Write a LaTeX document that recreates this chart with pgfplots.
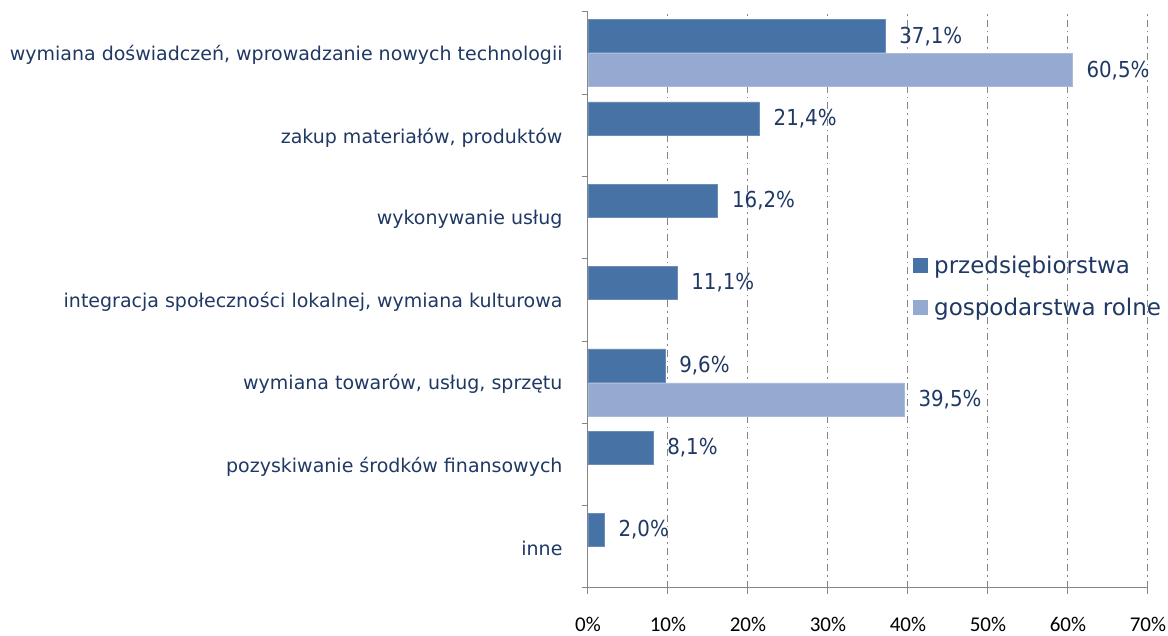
\documentclass[border=0pt]{standalone}
\usepackage{fontspec}
\setmainfont{DejaVu Sans}
\newfontfamily\valfont{DejaVu Sans}[FakeStretch=0.9]
\newfontfamily\tickfont{Carlito}
\usepackage{pgfplots}
\pgfplotsset{compat=1.18}
\definecolor{darkbar}{HTML}{4672A6}
\definecolor{lightbar}{HTML}{95AAD0}
\definecolor{navy}{HTML}{1F3864}
\definecolor{axgray}{HTML}{868686}

\begin{document}
\begin{tikzpicture}
\useasboundingbox (-588pt,-48pt) rectangle (580pt,588pt);
\begin{axis}[
    scale only axis, width=560pt, height=576pt,
    xbar, bar width=33pt,
    xmin=0, xmax=70, ymin=-0.5, ymax=6.5,
    axis x line*=bottom, axis y line*=left,
    axis line style={axgray, line width=1pt},
    tick align=outside, major tick length=6pt,
    tick style={axgray, line width=1pt},
    xtick={0,10,...,70},
    xticklabels={0\%,10\%,20\%,30\%,40\%,50\%,60\%,70\%},
    x tick label style={font=\tickfont\fontsize{21}{22}\selectfont, text=black, yshift=-20pt},
    ytick={-0.5,0.5,...,6.5},
    y tick label as interval,
    yticklabels={inne,
        pozyskiwanie środków finansowych,
        {wymiana towarów, usług, sprzętu},
        {integracja społeczności lokalnej, wymiana kulturowa},
        wykonywanie usług,
        {zakup materiałów, produktów},
        {wymiana doświadczeń, wprowadzanie nowych technologii}},
    y tick label style={font=\fontsize{19}{20}\selectfont, text=navy, xshift=-16pt, yshift=-2pt},
    xmajorgrids,
    grid style={axgray, line width=1pt, dash pattern=on 7pt off 4pt on 1.5pt off 4pt},
    nodes near coords, point meta=explicit symbolic,
    every node near coord/.append style={anchor=west, xshift=11pt, text=navy,
        font=\valfont\fontsize{22}{23}\selectfont},
    legend style={draw=none, fill=none, at={(rel axis cs:0.575,0.583)}, anchor=north west,
        font=\fontsize{23}{26}\selectfont, text=navy, row sep=19pt,
        /tikz/every even column/.append style={column sep=4pt}},
    legend cell align=left,
    legend image code/.code={\fill[#1, draw=none] (0pt,-7.5pt) rectangle (15pt,7.5pt);},
]
\addplot[fill=darkbar, draw=darkbar!80!white, bar shift=17pt] coordinates {
    (2.0,0) [2,0\%]
    (8.1,1) [8,1\%]
    (9.6,2) [9,6\%]
    (11.1,3) [11,1\%]
    (16.2,4) [16,2\%]
    (21.4,5) [21,4\%]
    (37.1,6) [37,1\%]
};
\addlegendentry{\hspace{4pt}przedsiębiorstwa}
\addplot[fill=lightbar, draw=lightbar!80!white, bar shift=-17pt] coordinates {
    (39.5,2) [39,5\%]
    (60.5,6) [60,5\%]
};
\addlegendentry{\hspace{4pt}gospodarstwa rolne}
\end{axis}
\end{tikzpicture}
\end{document}
